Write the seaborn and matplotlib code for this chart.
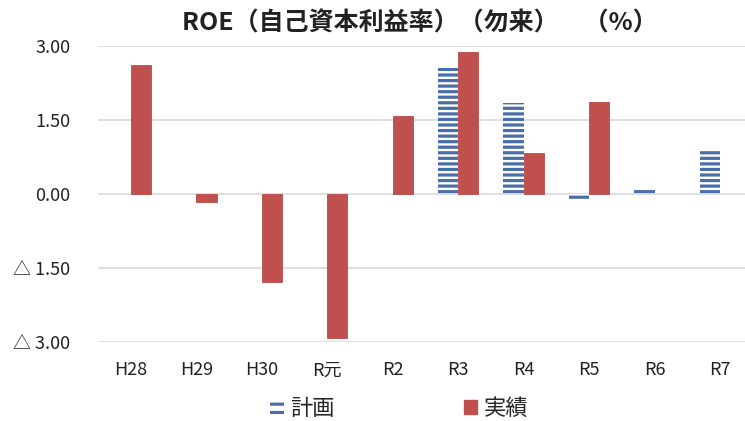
"""ROE chart: plan vs actual, recreated with seaborn."""

import matplotlib
matplotlib.use("Agg")
import matplotlib.pyplot as plt
import matplotlib.patches as mpatches
import numpy as np
import pandas as pd
import seaborn as sns

CATEGORIES = ["H28", "H29", "H30", "R元", "R2", "R3", "R4", "R5", "R6", "R7"]
PLAN = [np.nan, np.nan, np.nan, np.nan, np.nan, 2.55, 1.85, -0.10, 0.08, 0.91]
ACTUAL = [2.62, -0.16, -1.78, -2.92, 1.58, 2.88, 0.83, 1.87, np.nan, np.nan]
YTICKS = [3.0, 1.5, 0.0, -1.5, -3.0]
YTICK_LABELS = ["3.00", "1.50", "0.00", "△ 1.50", "△ 3.00"]
SERIES = ["計画", "実績"]

BLUE = "#4a6ea8"
RED = "#c0504d"
GRID = "#d9d9d9"
FONTS = ["Noto Sans CJK JP", "DejaVu Sans"]


def build_frame() -> pd.DataFrame:
    rows = []
    for cat, p, a in zip(CATEGORIES, PLAN, ACTUAL):
        rows.append({"year": cat, "series": SERIES[0], "value": p})
        rows.append({"year": cat, "series": SERIES[1], "value": a})
    return pd.DataFrame(rows).dropna()


def main() -> None:
    sns.set_theme(style="white")
    plt.rcParams["font.family"] = FONTS
    plt.rcParams["hatch.linewidth"] = 2.3

    df = build_frame()

    fig = plt.figure(figsize=(7.45, 4.21), dpi=100)
    ax = fig.add_axes([0.1315, 0.1876, 0.8685, 0.7031])

    sns.barplot(
        data=df,
        x="year",
        y="value",
        hue="series",
        order=CATEGORIES,
        hue_order=SERIES,
        palette=["white", RED],
        saturation=1,
        width=0.62,
        dodge=True,
        errorbar=None,
        legend=False,
        ax=ax,
    )

    # plan bars: white with blue horizontal stripes
    for bar in ax.containers[0]:
        bar.set_facecolor("white")
        bar.set_edgecolor(BLUE)
        bar.set_hatch("---")
        bar.set_linewidth(0)
    for bar in ax.containers[1]:
        bar.set_facecolor(RED)
        bar.set_edgecolor("#b84a47")
        bar.set_linewidth(0.6)

    ax.set_xlim(-0.5, 9.38)
    ax.set_ylim(-3, 3)
    ax.set_yticks(YTICKS)
    ax.set_yticklabels(YTICK_LABELS)
    ax.set_xlabel("")
    ax.set_ylabel("")
    ax.tick_params(axis="y", length=0, pad=20, labelsize=13, colors="#222222")
    ax.tick_params(axis="x", length=0, pad=14, labelsize=13, colors="#222222")
    ax.grid(axis="y", color=GRID, linewidth=1.2)
    ax.set_axisbelow(True)
    for s in ax.spines.values():
        s.set_visible(False)

    fig.text(
        0.563, 0.945, "ROE（自己資本利益率）（勿来）　（%）",
        ha="center", va="center", fontsize=18, fontweight="bold", color="#222222",
    )

    handles = [
        mpatches.Patch(facecolor="white", edgecolor=BLUE, hatch="--", linewidth=0, label=SERIES[0]),
        mpatches.Patch(facecolor=RED, edgecolor=RED, label=SERIES[1]),
    ]
    fig.legend(
        handles=handles,
        loc="center",
        bbox_to_anchor=(0.536, 0.03),
        ncol=2,
        frameon=False,
        fontsize=16,
        handlelength=0.6,
        handleheight=0.6,
        handletextpad=0.3,
        columnspacing=5.8,
    )

    fig.savefig("out.png", dpi=100, facecolor="white")
    plt.close(fig)


if __name__ == "__main__":
    main()
